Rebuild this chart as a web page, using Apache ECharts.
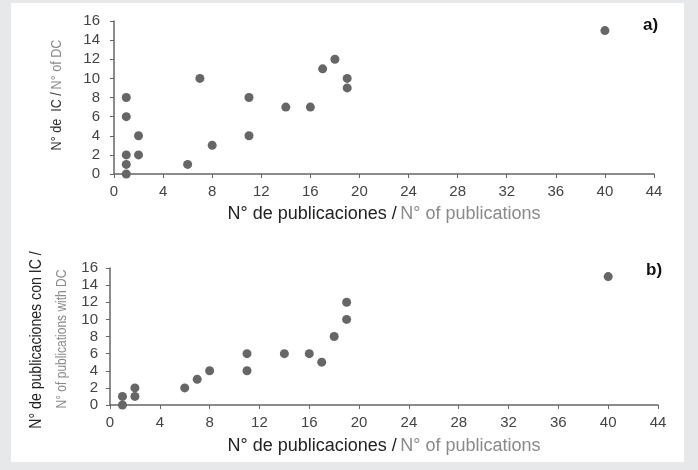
<!DOCTYPE html>
<html><head><meta charset="utf-8">
<script src="https://cdn.jsdelivr.net/npm/echarts@6/dist/echarts.min.js"></script>
<style>
html,body{margin:0;padding:0;background:#e7e8ea;}
#panel{position:absolute;left:11px;top:3px;width:673px;height:459px;background:#fff;}
#c{position:absolute;left:0;top:0;width:698px;height:470px;}
</style></head>
<body><div id="panel"></div><div id="c"></div>
<script>
const xTicks = [0,4,8,12,16,20,24,28,32,36,40,44];
const yTicks = [0,2,4,6,8,10,12,14,16];
const pubsA = [1,1,1,1,1,2,2,6,7,8,11,11,14,16,17,18,19,19,40];
const dcA   = [0,1,2,6,8,2,4,1,10,3,4,8,7,7,11,12,9,10,15];
const pubsB = [1,1,2,2,6,7,8,11,11,14,16,17,18,19,19,40];
const dcB   = [0,1,1,2,2,3,4,4,6,6,6,5,8,10,12,15];

const font = 'Liberation Sans, Arial, sans-serif';
const chart = echarts.init(document.getElementById('c'), null, {renderer:'canvas'});
function pairs(xs, ys){ return xs.map((x,i)=>[x, ys[i]]); }
function xAxis(idx, gap){
  return {gridIndex:idx, type:'value', min:xTicks[0], max:xTicks[xTicks.length-1], interval:4,
    axisLine:{show:true, onZero:false, lineStyle:{color:'#666', width:1.5}},
    axisTick:{show:true, length:4, lineStyle:{color:'#666'}},
    axisLabel:{color:'#444', fontSize:15, fontFamily:font, margin:10},
    splitLine:{show:false},
    name:'{a|N° de publicaciones /} {b|N° of publications}', nameLocation:'middle', nameGap:gap,
    nameTextStyle:{rich:{a:{color:'#222', fontSize:18, fontFamily:font}, b:{color:'#8a8a8a', fontSize:18, fontFamily:font}}}
  };
}
function yAxis(idx, margin){
  return {gridIndex:idx, type:'value', min:yTicks[0], max:yTicks[yTicks.length-1], interval:2,
    axisLine:{show:true, lineStyle:{color:'#666', width:1.5}},
    axisTick:{show:true, length:4, lineStyle:{color:'#666'}},
    axisLabel:{color:'#444', fontSize:15, fontFamily:font, margin:margin},
    splitLine:{show:false}
  };
}
function vText(x, y, text, rich, sx){
  return {type:'text', x:x, y:y, rotation:Math.PI/2, scaleX:sx, scaleY:1,
    style:{text:text, rich:rich, align:'center', verticalAlign:'middle', fontFamily:font}};
}

chart.setOption({
  animation:false,
  backgroundColor:'transparent',
  grid:[{left:114, right:44, top:21, height:153}, {left:110, right:40, top:268, height:137}],
  xAxis:[xAxis(0, 31), xAxis(1, 32)],
  yAxis:[yAxis(0, 14), yAxis(1, 12)],
  series:[
    {type:'scatter', xAxisIndex:0, yAxisIndex:0, data:pairs(pubsA, dcA), symbolSize:9, itemStyle:{color:'#666', opacity:1}},
    {type:'scatter', xAxisIndex:1, yAxisIndex:1, data:pairs(pubsB, dcB), symbolSize:9, itemStyle:{color:'#666', opacity:1}}
  ],
  graphic:[
    vText(57, 95, '{a|N° de  IC /} {b|N° of DC}',
      {a:{fill:'#333', fontSize:15, fontFamily:font}, b:{fill:'#8a8a8a', fontSize:15, fontFamily:font}}, 0.84),
    vText(36, 340, '{a|N° de publicaciones con IC /}',
      {a:{fill:'#222', fontSize:17, fontFamily:font}}, 0.83),
    vText(62, 339, '{b|N° of publications with DC}',
      {b:{fill:'#8a8a8a', fontSize:15, fontFamily:font}}, 0.8),
    {type:'text', left:643, top:17, style:{text:'a)', fontSize:17, fontWeight:'bold', fill:'#111', fontFamily:font}},
    {type:'text', left:646, top:262, style:{text:'b)', fontSize:17, fontWeight:'bold', fill:'#111', fontFamily:font}}
  ]
});
</script></body></html>
